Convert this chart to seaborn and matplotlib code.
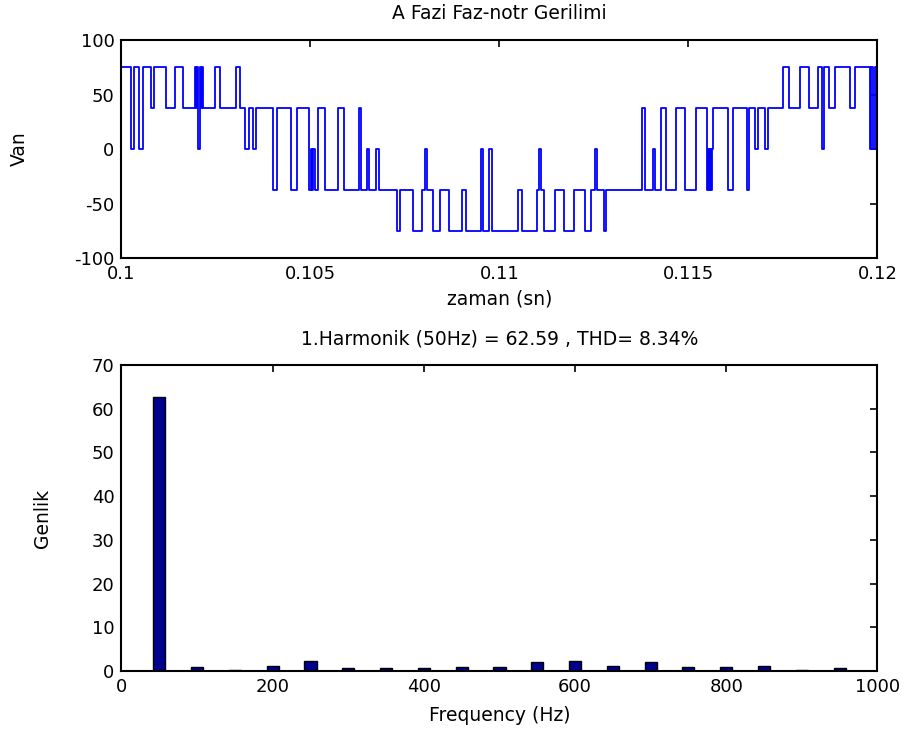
import matplotlib
matplotlib.use("Agg")
import matplotlib.pyplot as plt
import seaborn as sns
import numpy as np
import pandas as pd

# ---- data: phase-to-neutral voltage (switching instants in ms, level after switch in V)
switch_ms = [
    100.000, 100.243, 100.331, 100.463, 100.569, 100.788, 100.852, 101.185, 101.407, 101.627,
    101.952, 101.984, 102.011, 102.037, 102.090, 102.116, 102.138, 102.164, 102.466, 102.598,
    103.037, 103.127, 103.259, 103.365, 103.479, 103.566, 104.000, 104.106, 104.476, 104.635,
    104.974, 105.013, 105.053, 105.079, 105.119, 105.206, 105.384, 105.735, 105.886, 106.278,
    106.331, 106.495, 106.561, 106.746, 106.825, 107.280, 107.368, 107.720, 107.942, 108.029,
    108.090, 108.233, 108.434, 108.656, 109.008, 109.122, 109.511, 109.577, 109.735, 109.802,
    110.489, 110.595, 110.992, 111.045, 111.111, 111.169, 111.460, 111.698, 111.963, 112.254,
    112.413, 112.540, 112.593, 112.765, 112.817, 113.783, 113.849, 114.061, 114.127, 114.280,
    114.397, 114.661, 114.907, 115.190, 115.481, 115.516, 115.542, 115.569, 115.595, 115.622,
    115.656, 116.037, 116.169, 116.548, 116.614, 116.772, 116.852, 117.037, 117.116, 117.508,
    117.651, 117.950, 118.196, 118.418, 118.532, 118.598, 118.725, 118.876, 119.272, 119.413,
    119.802, 119.841, 119.881, 119.934, 120.000,
]
level_v = [
    75, 0, 75, 0, 75, 37.5, 75, 37.5, 75, 37.5,
    75, 37.5, 75, 0, 75, 37.5, 75, 37.5, 75, 37.5,
    75, 37.5, 0, 37.5, 0, 37.5, -37.5, 37.5, -37.5, 37.5,
    -37.5, 0, -37.5, 0, -37.5, 37.5, -37.5, 37.5, -37.5, 37.5,
    -37.5, 0, -37.5, 0, -37.5, -75, -37.5, -75, -37.5, 0,
    -37.5, -75, -37.5, -75, -37.5, -75, 0, -75, 0, -75,
    -37.5, -75, -37.5, 0, -37.5, -75, -37.5, -75, -37.5, -75,
    -37.5, 0, -37.5, -75, -37.5, 37.5, -37.5, 0, -37.5, 37.5,
    -37.5, 37.5, -37.5, 37.5, -37.5, 0, -37.5, 0, -37.5, 0,
    37.5, -37.5, 37.5, -37.5, 37.5, 0, 37.5, 0, 37.5, 75,
    37.5, 75, 37.5, 75, 0, 75, 37.5, 75, 37.5, 75,
    0, 75, 0, 75, 75,
]

# ---- data: harmonic spectrum
freq_hz = [50, 100, 150, 200, 250, 300, 350, 400, 450, 500,
           550, 600, 650, 700, 750, 800, 850, 900, 950]
amplitude = [62.59, 0.93, 0.3, 1.24, 2.3, 0.6, 0.6, 0.6, 0.93, 0.93,
             2.0, 2.3, 1.24, 2.0, 0.93, 0.93, 1.24, 0.3, 0.6]

top_xticks = [0.1, 0.105, 0.11, 0.115, 0.12]
top_xticklabels = ["0.1", "0.105", "0.11", "0.115", "0.12"]
top_yticks = [-100, -50, 0, 50, 100]
bot_xticks = [0, 200, 400, 600, 800, 1000]
bot_yticks = [0, 10, 20, 30, 40, 50, 60, 70]

sns.set_style("white")
plt.rcParams["font.family"] = ["DejaVu Sans"]
plt.rcParams["axes.unicode_minus"] = False
plt.rcParams["text.color"] = "black"
plt.rcParams["axes.labelcolor"] = "black"
plt.rcParams["xtick.color"] = "black"
plt.rcParams["ytick.color"] = "black"
FS = 13
FS_LAB = 13.5

fig = plt.figure(figsize=(9.21, 7.31), dpi=100)
ax1 = fig.add_axes([0.1319, 0.647, 0.8208, 0.298])
ax2 = fig.add_axes([0.1319, 0.0821, 0.8208, 0.4186])

wave = pd.DataFrame({"t": np.array(switch_ms) / 1000.0, "v": level_v})
sns.lineplot(data=wave, x="t", y="v", ax=ax1, drawstyle="steps-post",
             estimator=None, sort=False, color="#0000ff", linewidth=1.3)
ax1.set_xlim(0.1, 0.12)
ax1.set_ylim(-100, 100)
ax1.set_xticks(top_xticks)
ax1.set_xticklabels(top_xticklabels)
ax1.set_yticks(top_yticks)
ax1.set_title("A Fazi Faz-notr Gerilimi", fontsize=FS_LAB, pad=15, color="black")
ax1.set_xlabel("zaman (sn)", fontsize=FS_LAB, labelpad=5)
ax1.set_ylabel("Van", fontsize=FS_LAB)
ax1.yaxis.set_label_coords(-0.122, 0.5)

spec = pd.DataFrame({"f": freq_hz, "a": amplitude})
sns.barplot(data=spec, x="f", y="a", ax=ax2, native_scale=True, width=0.32,
            color="#00008f", saturation=1, edgecolor="black", linewidth=1.0)
ax2.set_xlim(0, 1000)
ax2.set_ylim(0, 70)
ax2.set_xticks(bot_xticks)
ax2.set_yticks(bot_yticks)
ax2.set_title("1.Harmonik (50Hz) = 62.59 , THD= 8.34%", fontsize=FS_LAB, pad=15, color="black")
ax2.set_xlabel("Frequency (Hz)", fontsize=FS_LAB, labelpad=7)
ax2.set_ylabel("Genlik", fontsize=FS_LAB)
ax2.yaxis.set_label_coords(-0.092, 0.5)

for ax in (ax1, ax2):
    ax.tick_params(direction="in", top=True, right=True, length=5, width=1.2,
                   labelsize=FS, pad=5, colors="black")
    for s in ax.spines.values():
        s.set_visible(True)
        s.set_color("black")
        s.set_linewidth(1.5)
    ax.grid(False)

fig.savefig("out.png", dpi=100)
